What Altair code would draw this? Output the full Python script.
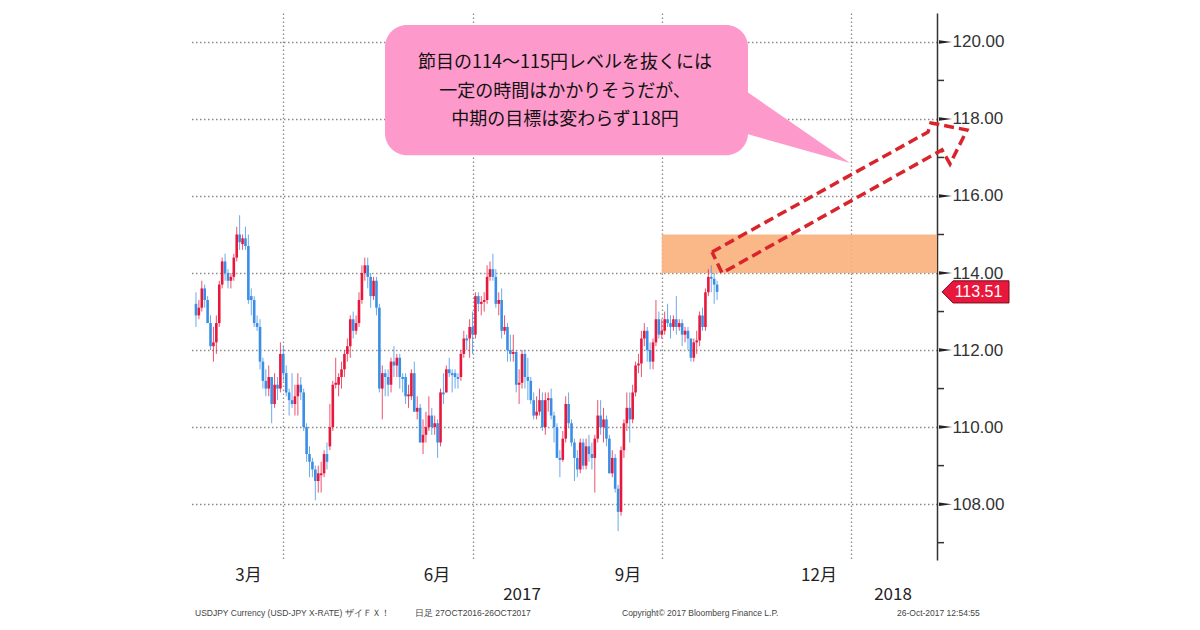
import altair as alt
import numpy as np
import pandas as pd

# ---------------- daily OHLC (USD/JPY), 2017-02-17 .. 2017-10-26 ----------------
opens = [
    # Feb
    113.2, 112.9, 113.1, 113.6, 113.3, 112.7, 112.1, 112.2,
    # Mar
    112.7, 113.7, 114.3, 114.0, 113.8, 113.9, 114.4, 115.0, 114.75, 114.9, 114.7, 113.4,
    113.3, 112.7, 112.6, 111.7, 111.2, 111.0, 111.3, 110.6, 111.1, 111.0, 111.9,
    # Apr
    111.4, 110.9, 110.7, 110.6, 110.8, 111.1, 110.9, 110.0, 109.3, 109.1, 108.9, 108.6,
    108.75, 108.8, 109.3, 109.5, 110.0, 111.1, 111.1, 111.3,
    # May
    111.5, 111.9, 112.1, 112.8, 112.5, 112.7, 113.3, 114.0, 114.2, 113.9, 113.4, 113.8,
    113.1, 111.0, 111.4, 111.3, 111.1, 111.7, 111.6, 111.8, 111.3, 111.3, 110.8,
    # Jun
    110.8, 111.4, 110.4, 110.5, 109.6, 109.8, 110.0, 110.3, 110.0, 110.1, 109.6, 110.9,
    110.9, 111.5, 111.4, 111.4, 111.3, 111.3, 111.9, 112.3, 112.3, 112.6,
    # Jul
    112.4, 113.4, 113.2, 113.25, 113.3, 113.9, 114.1, 113.9, 113.2, 113.3, 112.5, 112.6,
    112.0, 111.9, 111.95, 111.1, 111.15, 111.9, 111.3, 111.2, 110.7,
    # Aug
    110.3, 110.4, 110.7, 110.0, 110.7, 110.75, 110.3, 110.0, 109.2, 109.15, 109.7, 110.6,
    110.1, 109.6, 109.2, 108.9, 109.6, 109.0, 109.5, 109.3, 109.2, 109.7, 110.3,
    # Sep
    110.0, 110.2, 109.7, 108.8, 109.2, 108.4, 107.8, 109.4, 110.1, 110.5, 110.2, 110.9,
    111.6, 111.65, 112.3, 112.5, 112.0, 111.7, 112.2, 112.8, 112.4,
    # Oct
    112.5, 112.8, 112.7, 112.6, 112.8, 112.6, 112.7, 112.4, 112.5, 112.3, 111.8, 112.2,
    112.25, 112.9, 112.6, 113.5, 113.9, 113.85, 113.7,
]
highs = [
    113.5, 113.3, 113.8, 113.7, 113.4, 112.9, 112.6, 112.9,
    113.8, 114.4, 114.5, 114.1, 114.0, 114.5, 115.2, 115.5, 115.0, 115.2, 115.0, 113.6,
    113.4, 112.9, 112.8, 111.8, 111.5, 111.6, 111.3, 111.4, 111.3, 112.2, 112.1,
    111.6, 111.0, 111.4, 111.1, 111.4, 111.3, 111.0, 110.1, 109.5, 109.2, 109.0, 109.0,
    109.1, 109.4, 109.6, 110.6, 111.2, 111.8, 111.4, 111.7,
    112.0, 112.3, 112.9, 113.0, 112.9, 113.5, 114.2, 114.4, 114.4, 114.0, 113.9, 113.9,
    113.2, 111.6, 111.5, 111.5, 111.8, 112.1, 111.9, 111.9, 111.4, 111.4, 111.1,
    111.5, 111.7, 110.8, 110.6, 110.2, 110.4, 110.8, 110.5, 110.3, 110.2, 111.0, 111.4,
    111.6, 111.8, 111.5, 111.5, 111.4, 112.0, 112.5, 112.4, 112.8, 113.0,
    113.5, 113.5, 113.4, 113.5, 114.2, 114.3, 114.5, 114.1, 113.5, 113.6, 112.9, 112.7,
    112.4, 112.4, 112.0, 111.5, 112.0, 112.0, 111.8, 111.3, 110.9,
    110.8, 111.0, 110.9, 110.9, 110.9, 111.0, 110.4, 110.1, 109.4, 109.9, 110.8, 110.9,
    110.2, 109.7, 109.4, 109.7, 109.7, 109.7, 109.8, 109.6, 109.8, 110.7, 110.7,
    110.5, 110.3, 109.8, 109.4, 109.3, 108.5, 109.5, 110.2, 110.9, 110.9, 111.1, 111.7,
    111.9, 112.5, 112.7, 112.6, 112.2, 112.3, 113.3, 113.0, 112.8,
    113.0, 113.2, 112.9, 112.9, 113.4, 112.8, 112.8, 112.6, 112.6, 112.3, 112.3, 112.5,
    113.0, 113.1, 113.6, 114.1, 114.2, 114.0, 113.8,
]
lows = [
    112.6, 112.8, 113.0, 113.1, 112.7, 112.0, 111.7, 111.9,
    112.6, 113.6, 113.8, 113.6, 113.6, 113.8, 114.3, 114.6, 114.6, 114.6, 113.2, 112.9,
    112.6, 112.5, 111.5, 111.0, 110.8, 110.8, 110.1, 110.5, 110.7, 110.9, 111.2,
    110.8, 110.3, 110.5, 110.3, 110.3, 110.7, 109.9, 109.1, 108.7, 108.7, 108.1, 108.3,
    108.3, 108.7, 108.9, 109.4, 109.9, 111.0, 110.8, 111.0,
    111.3, 111.7, 111.8, 112.3, 112.4, 112.6, 113.2, 113.8, 113.6, 113.1, 113.3, 112.9,
    110.9, 110.2, 110.8, 110.8, 110.9, 111.3, 111.3, 111.0, 110.9, 110.6, 110.5,
    110.7, 110.4, 110.2, 109.6, 109.3, 109.6, 109.9, 109.8, 109.8, 109.2, 109.5, 110.6,
    110.9, 111.3, 110.9, 111.0, 111.0, 111.2, 111.8, 112.0, 111.8, 111.9,
    112.3, 113.0, 112.9, 113.0, 113.2, 113.8, 113.8, 113.1, 112.9, 112.3, 112.4, 111.7,
    111.7, 111.7, 110.9, 110.6, 111.0, 111.0, 110.7, 110.6, 110.2,
    110.2, 110.3, 109.9, 109.8, 110.4, 110.2, 109.6, 109.2, 108.7, 109.1, 109.6, 110.0,
    109.5, 108.6, 108.7, 108.8, 108.9, 108.9, 109.1, 108.9, 108.3, 109.6, 109.8,
    109.6, 109.5, 108.8, 108.7, 108.3, 107.3, 107.7, 109.2, 109.9, 109.6, 110.1, 110.8,
    111.4, 111.3, 112.1, 111.7, 111.5, 111.5, 112.1, 112.3, 112.3,
    112.4, 112.6, 112.3, 112.5, 112.4, 112.5, 112.1, 112.2, 112.0, 111.7, 111.7, 111.9,
    112.1, 112.5, 112.5, 113.4, 113.5, 113.2, 113.3,
]
closes = [
    112.9, 113.1, 113.6, 113.3, 112.7, 112.1, 112.2, 112.7,
    113.7, 114.3, 114.0, 113.8, 113.9, 114.4, 115.0, 114.8, 114.9, 114.7, 113.3, 113.3,
    112.7, 112.6, 111.7, 111.2, 111.0, 111.3, 110.6, 111.1, 111.0, 111.9, 111.4,
    110.9, 110.7, 110.6, 110.8, 111.1, 110.9, 110.0, 109.3, 109.1, 108.9, 108.6, 108.8,
    108.8, 109.3, 109.1, 110.0, 111.1, 111.15, 111.3, 111.5,
    111.9, 112.1, 112.8, 112.5, 112.7, 113.3, 114.0, 114.2, 113.9, 113.4, 113.8, 113.1,
    111.0, 111.4, 111.3, 111.1, 111.7, 111.6, 111.8, 111.3, 111.25, 110.8, 110.85,
    111.4, 110.4, 110.5, 109.6, 109.8, 110.0, 110.3, 110.0, 110.1, 109.6, 110.9, 110.85,
    111.5, 111.4, 111.35, 111.3, 111.25, 111.9, 112.3, 112.25, 112.6, 112.4,
    113.4, 113.2, 113.25, 113.3, 113.9, 114.1, 113.9, 113.2, 113.3, 112.5, 112.6, 112.0,
    111.9, 111.95, 111.1, 111.15, 111.9, 111.3, 111.2, 110.7, 110.3,
    110.4, 110.7, 110.0, 110.7, 110.75, 110.3, 110.0, 109.2, 109.15, 109.7, 110.6, 110.1,
    109.6, 109.2, 108.9, 109.6, 109.0, 109.5, 109.3, 109.2, 109.7, 110.3, 110.0,
    110.2, 109.7, 108.8, 109.2, 108.4, 107.8, 109.4, 110.1, 110.5, 110.2, 110.9, 111.6,
    111.65, 112.3, 112.5, 112.0, 111.7, 112.2, 112.8, 112.4, 112.5,
    112.8, 112.7, 112.6, 112.8, 112.6, 112.7, 112.4, 112.5, 112.3, 111.8, 112.2, 112.25,
    112.9, 112.6, 113.5, 113.9, 113.85, 113.7, 113.51,
]
dates = pd.bdate_range("2017-02-17", "2017-10-26")

# The Bloomberg axis is a trading-day (weekday) axis: x is counted in weekdays from 2017-04-03.
ORIGIN = "2017-04-03"
grid_months = ["2017-04-03", "2017-07-03", "2017-10-02", "2018-01-01"]  # first weekday of each quarter

# axis ticks / labels
y_major = [108, 110, 112, 114, 116, 118, 120]
y_minor = [107, 109, 111, 113, 115, 117, 119]
month_text = ["3月", "6月", "9月", "12月"]
month_pos = [-12.95, 51.79, 117.40, 183.0]      # in weekday units
year_text = ["2017", "2018"]
year_pos = [81.0, 208.44]

# resistance zone 114-115 from October onward
zone_y = [114.0, 115.0]

# callout (data coordinates, weekday units / yen)
bubble_x = [33.93, 158.62]
bubble_y = [120.44, 117.06]
tail_x = [155.87, 193.66]
tail_y = [118.83, 116.857]
tail_y2 = [117.66, 116.857]
callout_lines = ["節目の114～115円レベルを抜くには", "一定の時間はかかりそうだが、", "中期の目標は変わらず118円"]
callout_x = 95.76
callout_y = [119.45, 118.70, 117.97]

# dashed target arrow (data coordinates)
arrow_x = [146.26, 220.45, 221.48, 233.85, 228.01, 225.26, 149.70, 146.26]
arrow_y = [114.545, 117.662, 117.896, 117.714, 116.831, 117.195, 114.0, 114.545]

footer_text = ["USDJPY Currency (USD-JPY X-RATE) ザイＦＸ！", "日足 27OCT2016-26OCT2017",
               "Copyright© 2017 Bloomberg Finance L.P.", "26-Oct-2017 12:54:55"]

# ---------------- chart ----------------
W, H = 747, 547
RED = "#e8173c"
BLUE = "#3a8ee6"
PINK = "#fd9acb"
FONT_JP = "Noto Sans CJK JP"
X_DOMAIN = [-33.05, 223.54]

slots = np.busday_count(ORIGIN, dates.values.astype("datetime64[D]"))
grid_slots = [int(np.busday_count(ORIGIN, m)) - 1 for m in grid_months]

xscale = alt.Scale(domain=X_DOMAIN, nice=False, zero=False, padding=0)
yscale = alt.Scale(domain=[106.55, 120.75], nice=False, zero=False, padding=0)

df = pd.DataFrame({"slot": slots, "open": opens, "high": highs, "low": lows, "close": closes})
df["dir"] = ["up" if c > o else "down" for o, c in zip(opens, closes)]
cscale = alt.Scale(domain=["up", "down"], range=[RED, BLUE])

xaxis = alt.Axis(values=grid_slots, grid=True, gridDash=[1.5, 2.5], gridColor="#8a8a8a", gridWidth=1.3,
                 labels=False, ticks=False, domain=False, title=None)
yaxis = alt.Axis(orient="right", values=y_major, format=".2f", grid=True, gridDash=[1.5, 2.5],
                 gridColor="#8a8a8a", gridWidth=1.3, ticks=False, domain=True, domainColor="#333",
                 domainWidth=1.5, labelFont="Liberation Sans", labelFontSize=17, labelColor="#333",
                 labelPadding=15, title=None)


def X(field):
    return alt.X(field, type="quantitative", scale=xscale, axis=xaxis)


def Y(field):
    return alt.Y(field, type="quantitative", scale=yscale, axis=yaxis)


zone = alt.Chart(pd.DataFrame({"x": [grid_slots[2]], "x2": [X_DOMAIN[1]],
                               "y": [zone_y[0]], "y2": [zone_y[1]]})).mark_rect(
    color="#f9b07c", opacity=0.9).encode(x=X("x"), x2="x2", y=Y("y"), y2="y2")

wick = alt.Chart(df).mark_rule(strokeWidth=1, opacity=0.75).encode(
    x=X("slot"), y=Y("low"), y2="high",
    color=alt.Color("dir:N", scale=cscale, legend=None))
body = alt.Chart(df).mark_bar(size=2.6).encode(
    x=X("slot"), y=Y("open"), y2="close",
    color=alt.Color("dir:N", scale=cscale, legend=None))

bubble = alt.Chart(pd.DataFrame({"x": [bubble_x[0]], "x2": [bubble_x[1]],
                                 "y": [bubble_y[0]], "y2": [bubble_y[1]]})).mark_rect(
    color=PINK, cornerRadius=22).encode(x=X("x"), x2="x2", y=Y("y"), y2="y2")
tail = alt.Chart(pd.DataFrame({"x": tail_x, "y": tail_y, "y2": tail_y2})).mark_area(
    color=PINK, opacity=1).encode(x=X("x"), y=Y("y"), y2="y2")
callout = alt.Chart(pd.DataFrame({"x": [callout_x] * 3, "y": callout_y, "t": callout_lines})).mark_text(
    font=FONT_JP, fontSize=18, color="#111", align="center", baseline="middle").encode(
    x=X("x"), y=Y("y"), text="t:N")

arrow = alt.Chart(pd.DataFrame({"x": arrow_x, "y": arrow_y, "i": list(range(len(arrow_y)))})).mark_line(
    color="#d9242b", strokeWidth=3.5, strokeDash=[10, 5], strokeJoin="miter").encode(
    x=X("x"), y=Y("y"), order="i:Q")

minor = alt.Chart(pd.DataFrame({"v": y_minor})).mark_rule(color="#333", strokeWidth=1.5).encode(
    x=alt.value(W), x2=alt.value(W + 7), y=Y("v"))
major = alt.Chart(pd.DataFrame({"v": y_major})).mark_point(
    shape="M-1,-0.27L1,0L-1,0.27Z", size=169, filled=True, color="#222", opacity=1).encode(
    x=alt.value(W + 8.5), y=Y("v"))

last = pd.DataFrame({"v": [closes[-1]]})
tag = alt.Chart(last).mark_point(
    shape="M-1,0L-0.67,-0.33L1,-0.33L1,0.33L-0.67,0.33Z", size=4489, filled=True,
    fill=RED, stroke="#7d0a1a", strokeWidth=1, opacity=1).encode(x=alt.value(W + 38.5), y=Y("v"))
tag_text = alt.Chart(last).mark_text(font="Liberation Sans", fontSize=16, color="white",
                                     align="center", baseline="middle").encode(
    x=alt.value(W + 41.5), y=Y("v"), text=alt.Text("v:Q", format=".2f"))

months = alt.Chart(pd.DataFrame({"d": month_pos, "t": month_text})).mark_text(
    font=FONT_JP, fontSize=17, color="#222", align="center", baseline="middle").encode(
    x=X("d"), y=alt.value(563), text="t:N")
years = alt.Chart(pd.DataFrame({"d": year_pos, "t": year_text})).mark_text(
    font=FONT_JP, fontSize=17, color="#222", align="center", baseline="middle").encode(
    x=X("d"), y=alt.value(582), text="t:N")

footer_px = [5, 225, 432, 707]
footers = []
for txt, px in zip(footer_text, footer_px):
    footers.append(alt.Chart(pd.DataFrame({"t": [txt]})).mark_text(
        font="Liberation Sans", fontSize=8.5, color="#444", align="left", baseline="middle").encode(
        x=alt.value(px), y=alt.value(600), text="t:N"))

chart = alt.layer(zone, wick, body, bubble, tail, callout, arrow, minor, major, tag, tag_text,
                  months, years, *footers).properties(
    width=W, height=H, padding={"left": 182, "top": 5, "right": 5, "bottom": 5}
).configure_view(stroke=None)

chart.save("out.html", embed_options={"renderer": "svg", "actions": False})
